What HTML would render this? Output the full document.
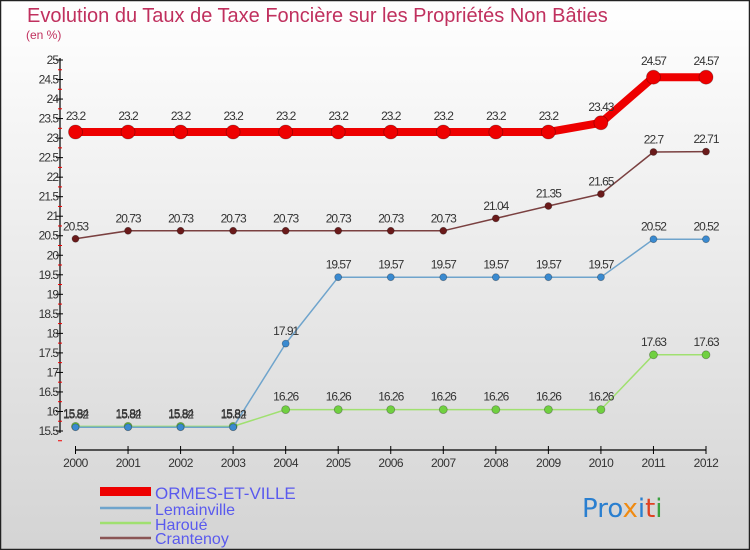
<!DOCTYPE html>
<html><head><meta charset="utf-8"><style>
body{margin:0}
#c{width:750px;height:550px;position:relative;overflow:hidden;font-family:"Liberation Sans",sans-serif}
</style></head><body>
<div id="c">
<svg id="s" width="750" height="550" xmlns="http://www.w3.org/2000/svg">
<defs><linearGradient id="bg" x1="0" y1="0" x2="0" y2="1"><stop offset="0" stop-color="#ffffff"/><stop offset="1" stop-color="#d4d4d4"/></linearGradient></defs>
<rect x="0.5" y="0.5" width="749" height="549" fill="url(#bg)" stroke="#222" stroke-width="1.5"/>
<text x="27" y="22" font-size="20" fill="#c0305e">Evolution du Taux de Taxe Foncière sur les Propriétés Non Bâties</text>
<text x="26" y="39" font-size="12" fill="#c0305e">(en %)</text>
<g id="axes"></g><g id="series"></g>
<g>
<rect x="100" y="487" width="51" height="9" fill="#ee0000"/>
<text x="155" y="499" font-size="17" fill="#5a5aee">ORMES-ET-VILLE</text>
<line x1="100" y1="508" x2="151" y2="508" stroke="#6fa4cc" stroke-width="2.5"/>
<text x="155" y="515" font-size="16" fill="#5a5aee">Lemainville</text>
<line x1="100" y1="523" x2="151" y2="523" stroke="#a0e070" stroke-width="2.5"/>
<text x="155" y="530" font-size="16" fill="#5a5aee">Haroué</text>
<line x1="100" y1="538" x2="151" y2="538" stroke="#8a5555" stroke-width="2.5"/>
<text x="155" y="544" font-size="16" fill="#5a5aee">Crantenoy</text>
</g>
<g font-size="26" font-family="'DejaVu Sans',sans-serif">
<text x="582" y="517"><tspan fill="#2a7fd0">Pro</tspan><tspan fill="#f08a10">x</tspan><tspan fill="#2a7fd0">i</tspan><tspan fill="#e04020">t</tspan><tspan fill="#3aa040">i</tspan></text>
</g>
</svg></div>
<script>
const years=[2000,2001,2002,2003,2004,2005,2006,2007,2008,2009,2010,2011,2012];
const ormes=[23.2,23.2,23.2,23.2,23.2,23.2,23.2,23.2,23.2,23.2,23.43,24.57,24.57];
const lemainville=[15.82,15.82,15.82,15.82,17.91,19.57,19.57,19.57,19.57,19.57,19.57,20.52,20.52];
const haroue=[15.84,15.84,15.84,15.84,16.26,16.26,16.26,16.26,16.26,16.26,16.26,17.63,17.63];
const crantenoy=[20.53,20.73,20.73,20.73,20.73,20.73,20.73,20.73,21.04,21.35,21.65,22.7,22.71];
const yTicks=[15.5,16,16.5,17,17.5,18,18.5,19,19.5,20,20.5,21,21.5,22,22.5,23,23.5,24,24.5,25];
const NS="http://www.w3.org/2000/svg";
const xS=i=>75.5+i*(706-75.5)/12;
const yS=v=>60+(25-v)*40;
const yT=v=>60+(25-v)*(431-60)/9.5;
function mk(t,a,p){const e=document.createElementNS(NS,t);for(const k in a)e.setAttribute(k,a[k]);p.appendChild(e);return e;}
const ax=document.getElementById('axes');
const yl=mk('line',{x1:60,y1:yT(25)-2,x2:60,y2:yT(15.5)+2,stroke:'#000','stroke-width':1.2},ax);


yTicks.forEach(v=>{
  const y=yT(v);
  mk('line',{x1:56,y1:y,x2:63,y2:y,stroke:'#000'},ax);
  mk('line',{x1:58,y1:y+9.75,x2:62,y2:y+9.75,stroke:'#e00'},ax);
  const t=mk('text',{x:58,y:y+4,'text-anchor':'end','font-size':12,fill:'#333','letter-spacing':'-1'},ax);
  t.textContent=String(v);
  
  
});
const xl=mk('line',{x1:xS(0),y1:450,x2:xS(12),y2:450,stroke:'#000','stroke-width':1.2},ax);


years.forEach((yr,i)=>{
  mk('line',{x1:xS(i),y1:446,x2:xS(i),y2:454,stroke:'#000'},ax);
  const t=mk('text',{x:xS(i),y:467,'text-anchor':'middle','font-size':12,fill:'#333','letter-spacing':'-0.5'},ax);
  t.textContent=String(yr);
  
  
});
const sg=document.getElementById('series');
function draw(vals,name,col,fill,w,r){
  const g=mk('g',{},sg);
  
  
  const pl=mk('polyline',{points:vals.map((v,i)=>xS(i)+','+yS(v)).join(' '),fill:'none',stroke:col,'stroke-width':w,'stroke-linejoin':'round'},g);
  
  
  vals.forEach((v,i)=>{
    const c=mk('circle',{cx:xS(i),cy:yS(v),r:r,fill:fill,stroke:'rgba(0,0,0,0.3)','stroke-width':0.8},g);
    
    
    const t=mk('text',{x:xS(i),y:yS(v)-(r+5),'text-anchor':'middle','font-size':12,fill:'#333','letter-spacing':'-1'},g);
    t.textContent=String(v);
    
    
  });
}
draw(crantenoy,'crantenoy','#7a4040','#6a1a1a',1.5,3.5);
draw(haroue,'haroue','#a0e070','#70d040',1.5,4);
draw(lemainville,'lemainville','#6fa4cc','#3a8ad0',1.5,3.5);
draw(ormes,'ormes','#ee0000','#ee0000',8,7);
</script>
</body></html>
